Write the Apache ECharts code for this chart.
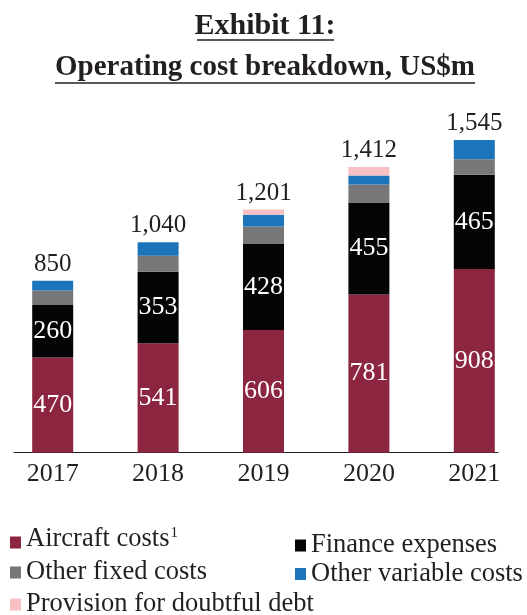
<!DOCTYPE html>
<html>
<head>
<meta charset="utf-8">
<style>
  html, body { margin: 0; padding: 0; background: #ffffff; }
  #chart { width: 527px; height: 615px; }
</style>
<script src="https://cdn.jsdelivr.net/npm/echarts@6/dist/echarts.min.js"></script>
</head>
<body>
<div id="chart"></div>
<script>
// Operating cost breakdown by year, US$m
const years = ['2017', '2018', '2019', '2020', '2021'];
const aircraftCosts = [470, 541, 606, 781, 908];
const financeExpenses = [260, 353, 428, 455, 465];
const otherFixedCosts = [71, 79, 84, 89, 77];
const otherVariableCosts = [49, 67, 58, 45, 95];
const provisionDoubtfulDebt = [0, 0, 25, 42, 0];
const totals = [850, 1040, 1201, 1412, 1545];

const FONT = 'Liberation Serif';
const INK = '#231F20';
const LEGEND_SIZE = 26.5;

const chart = echarts.init(document.getElementById('chart'), null, { renderer: 'canvas' });

function segment(name, values, color, showLabel) {
  return {
    name: name,
    type: 'bar',
    stack: 'cost',
    barWidth: 41,
    data: values,
    itemStyle: { color: color },
    label: {
      show: showLabel,
      position: 'inside',
      color: '#ffffff',
      fontFamily: FONT,
      fontSize: 26
    },
    emphasis: { disabled: true }
  };
}

function legendBlock(name, left, top, pad, extra) {
  return Object.assign({
    data: [name],
    left: left,
    top: top,
    padding: 0,
    itemWidth: 11,
    itemHeight: 12,
    selectedMode: false,
    icon: 'rect',
    textStyle: {
      fontFamily: FONT,
      fontSize: LEGEND_SIZE,
      color: INK,
      padding: pad
    }
  }, extra || {});
}

const PLOT_TOP = 108.6;
const PLOT_BOTTOM = 162.3;

const option = {
  animation: false,
  title: [
    {
      text: 'Exhibit 11:',
      left: 265,
      top: 11,
      textAlign: 'center',
      padding: 0,
      textStyle: { fontFamily: FONT, fontWeight: 'bold', fontSize: 30, color: INK }
    },
    {
      text: 'Operating cost breakdown, US$m',
      left: 265,
      top: 53,
      textAlign: 'center',
      padding: 0,
      textStyle: { fontFamily: FONT, fontWeight: 'bold', fontSize: 29, color: INK }
    }
  ],
  graphic: [
    { type: 'line', shape: { x1: 197, y1: 40, x2: 334, y2: 40 }, style: { stroke: INK, lineWidth: 1.5 } },
    { type: 'line', shape: { x1: 55, y1: 83, x2: 475, y2: 83 }, style: { stroke: INK, lineWidth: 1.5 } }
  ],
  legend: [
    legendBlock('Aircraft costs', 10, 526, [0, 0, 6, 0], {
      formatter: name => '{a|' + name + '}{s|1}',
      textStyle: {
        fontFamily: FONT, fontSize: LEGEND_SIZE, color: INK, padding: [0, 0, 6, 0],
        rich: {
          a: { fontFamily: FONT, fontSize: LEGEND_SIZE, color: INK },
          s: { fontFamily: FONT, fontSize: 15, color: INK, verticalAlign: 'top', padding: [0, 0, 0, 1] }
        }
      }
    }),
    legendBlock('Finance expenses', 295, 532, [0, 0, 0, 0]),
    legendBlock('Other fixed costs', 10, 559, [0, 0, 0, 0]),
    legendBlock('Other variable costs', 295, 560.5, [0, 0, 3, 0]),
    legendBlock('Provision for doubtful debt', 10, 591, [0, 0, 3, 0])
  ],
  grid: [
    // bars: one category band per year
    { left: -0.56, right: -3.06, top: PLOT_TOP, bottom: PLOT_BOTTOM, containLabel: false },
    // baseline rule under the bars
    { left: 14, right: 29, top: PLOT_TOP, bottom: PLOT_BOTTOM, containLabel: false }
  ],
  xAxis: [
    {
      type: 'category',
      gridIndex: 0,
      data: years,
      axisLine: { show: false },
      axisTick: { show: false },
      splitLine: { show: false },
      axisLabel: {
        fontFamily: FONT,
        fontSize: 26,
        color: INK,
        margin: 8
      }
    },
    {
      type: 'value',
      gridIndex: 1,
      min: 0,
      max: 1,
      axisLine: { show: true, onZero: false, lineStyle: { color: INK, width: 1.2 } },
      axisTick: { show: false },
      axisLabel: { show: false },
      splitLine: { show: false }
    }
  ],
  yAxis: [
    { type: 'value', gridIndex: 0, min: 0, max: 1700, show: false, splitLine: { show: false } },
    { type: 'value', gridIndex: 1, min: 0, max: 1, show: false, splitLine: { show: false } }
  ],
  series: [
    segment('Aircraft costs', aircraftCosts, '#8C2540', true),
    segment('Finance expenses', financeExpenses, '#050505', true),
    segment('Other fixed costs', otherFixedCosts, '#777678', false),
    segment('Other variable costs', otherVariableCosts, '#1C74BB', false),
    segment('Provision for doubtful debt', provisionDoubtfulDebt, '#F8C0C3', false),
    {
      name: 'Total',
      type: 'bar',
      stack: 'cost',
      barWidth: 41,
      data: totals.map(() => 0),
      itemStyle: { color: 'transparent' },
      label: {
        show: true,
        position: 'top',
        distance: 4,
        fontFamily: FONT,
        fontSize: 25,
        color: INK,
        formatter: p => totals[p.dataIndex].toLocaleString('en-US')
      },
      emphasis: { disabled: true }
    }
  ]
};

chart.setOption(option);
</script>
</body>
</html>
